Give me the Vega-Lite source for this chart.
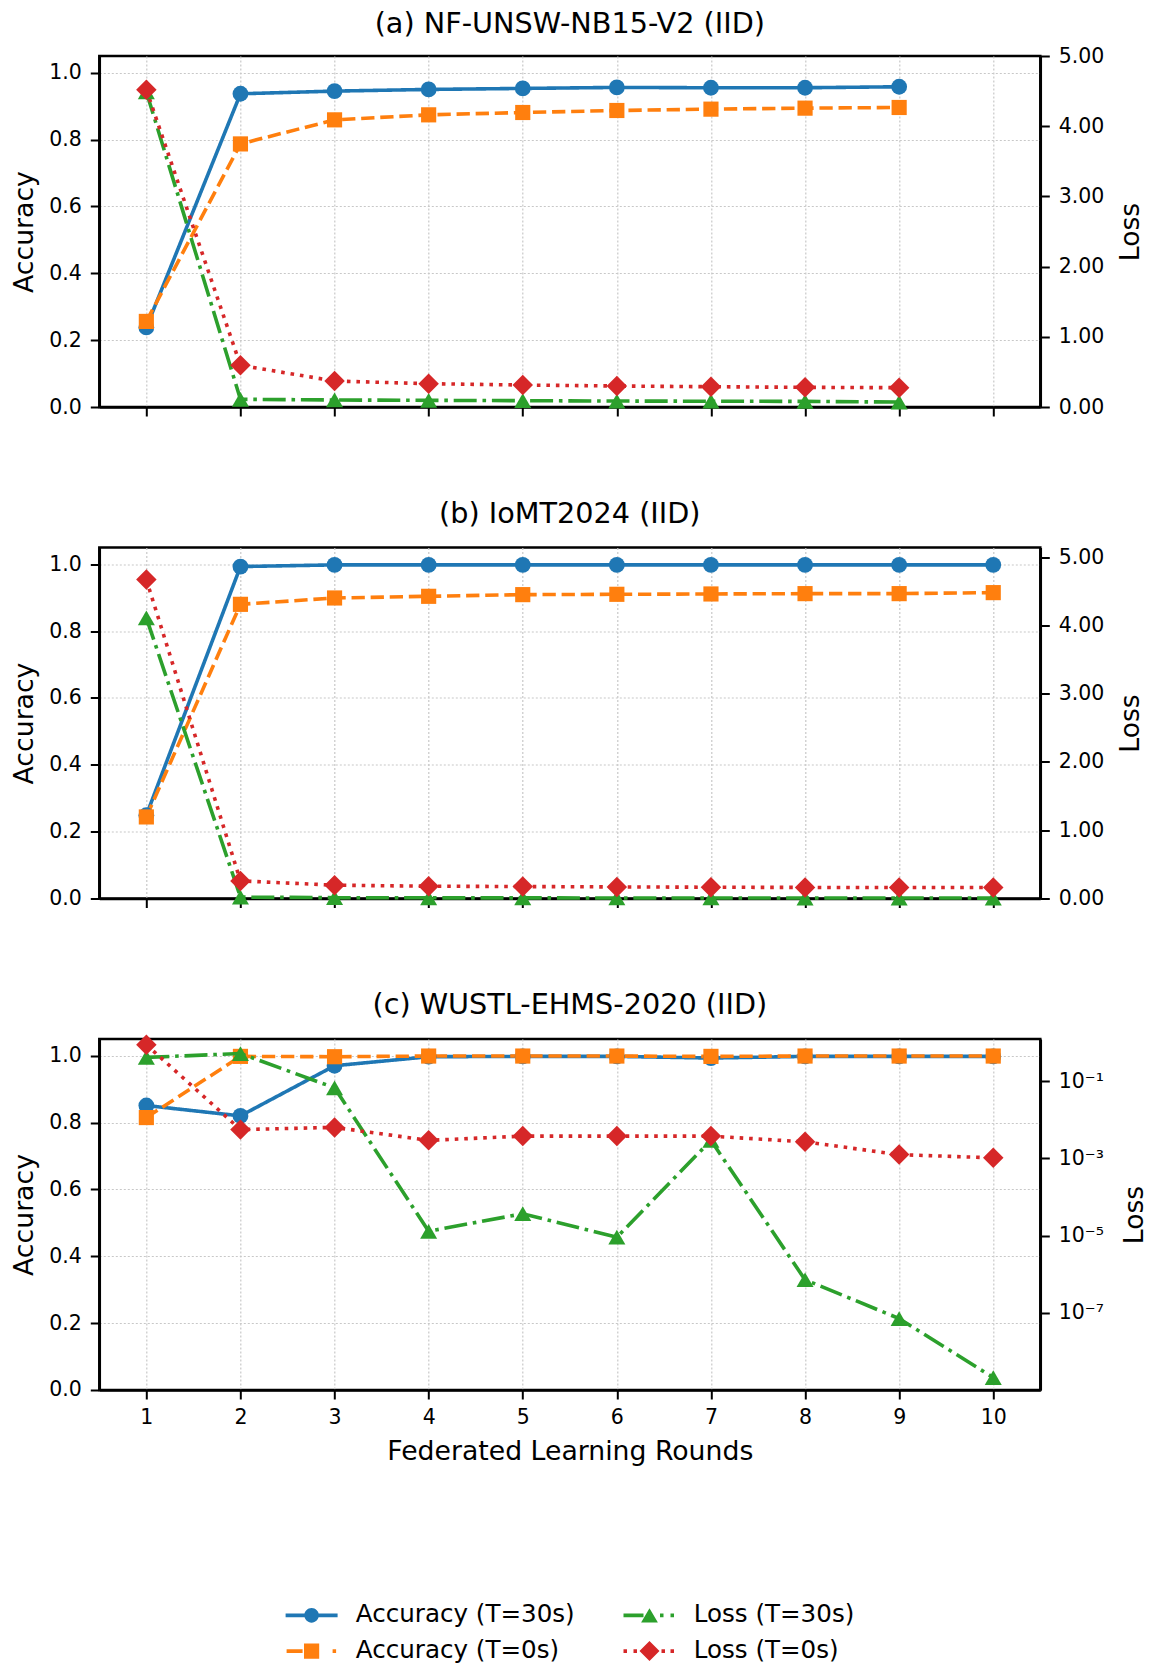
{
  "$schema": "https://vega.github.io/schema/vega-lite/v6.json",
  "padding": {"left": 10.3, "top": 9, "right": 5, "bottom": 0},
  "background": "white",
  "config": {
    "font": "DejaVu Sans",
    "view": {"stroke": "black", "strokeWidth": 2.5},
    "title": {"font": "DejaVu Sans", "fontSize": 28.7, "fontWeight": "normal", "color": "black", "baseline": "bottom", "anchor": "middle", "frame": "group"},
    "axis": {"labelFont": "DejaVu Sans", "titleFont": "DejaVu Sans", "labelFontSize": 20.5, "titleFontSize": 26.7, "titleFontWeight": "normal", "labelColor": "black", "titleColor": "black", "domainColor": "black", "domainWidth": 2.5, "tickColor": "black", "tickWidth": 2, "tickSize": 9, "labelPadding": 9, "gridColor": "#c8c8c8", "gridDash": [2, 2], "gridWidth": 1.2, "grid": false},
    "point": {"filled": true, "opacity": 1, "strokeWidth": 0}
  },
  "data": {"values": [
    {"panel": "a", "round": 1, "series": "Accuracy (T=30s)", "metric": "acc", "value": 0.238},
    {"panel": "a", "round": 2, "series": "Accuracy (T=30s)", "metric": "acc", "value": 0.937},
    {"panel": "a", "round": 3, "series": "Accuracy (T=30s)", "metric": "acc", "value": 0.945},
    {"panel": "a", "round": 4, "series": "Accuracy (T=30s)", "metric": "acc", "value": 0.950},
    {"panel": "a", "round": 5, "series": "Accuracy (T=30s)", "metric": "acc", "value": 0.953},
    {"panel": "a", "round": 6, "series": "Accuracy (T=30s)", "metric": "acc", "value": 0.956},
    {"panel": "a", "round": 7, "series": "Accuracy (T=30s)", "metric": "acc", "value": 0.955},
    {"panel": "a", "round": 8, "series": "Accuracy (T=30s)", "metric": "acc", "value": 0.955},
    {"panel": "a", "round": 9, "series": "Accuracy (T=30s)", "metric": "acc", "value": 0.958},
    {"panel": "a", "round": 1, "series": "Accuracy (T=0s)", "metric": "acc", "value": 0.256},
    {"panel": "a", "round": 2, "series": "Accuracy (T=0s)", "metric": "acc", "value": 0.787},
    {"panel": "a", "round": 3, "series": "Accuracy (T=0s)", "metric": "acc", "value": 0.859},
    {"panel": "a", "round": 4, "series": "Accuracy (T=0s)", "metric": "acc", "value": 0.874},
    {"panel": "a", "round": 5, "series": "Accuracy (T=0s)", "metric": "acc", "value": 0.881},
    {"panel": "a", "round": 6, "series": "Accuracy (T=0s)", "metric": "acc", "value": 0.887},
    {"panel": "a", "round": 7, "series": "Accuracy (T=0s)", "metric": "acc", "value": 0.891},
    {"panel": "a", "round": 8, "series": "Accuracy (T=0s)", "metric": "acc", "value": 0.894},
    {"panel": "a", "round": 9, "series": "Accuracy (T=0s)", "metric": "acc", "value": 0.896},
    {"panel": "a", "round": 1, "series": "Loss (T=30s)", "metric": "loss", "value": 4.49},
    {"panel": "a", "round": 2, "series": "Loss (T=30s)", "metric": "loss", "value": 0.11},
    {"panel": "a", "round": 3, "series": "Loss (T=30s)", "metric": "loss", "value": 0.10},
    {"panel": "a", "round": 4, "series": "Loss (T=30s)", "metric": "loss", "value": 0.095},
    {"panel": "a", "round": 5, "series": "Loss (T=30s)", "metric": "loss", "value": 0.09},
    {"panel": "a", "round": 6, "series": "Loss (T=30s)", "metric": "loss", "value": 0.085},
    {"panel": "a", "round": 7, "series": "Loss (T=30s)", "metric": "loss", "value": 0.082},
    {"panel": "a", "round": 8, "series": "Loss (T=30s)", "metric": "loss", "value": 0.08},
    {"panel": "a", "round": 9, "series": "Loss (T=30s)", "metric": "loss", "value": 0.07},
    {"panel": "a", "round": 1, "series": "Loss (T=0s)", "metric": "loss", "value": 4.52},
    {"panel": "a", "round": 2, "series": "Loss (T=0s)", "metric": "loss", "value": 0.594},
    {"panel": "a", "round": 3, "series": "Loss (T=0s)", "metric": "loss", "value": 0.37},
    {"panel": "a", "round": 4, "series": "Loss (T=0s)", "metric": "loss", "value": 0.332},
    {"panel": "a", "round": 5, "series": "Loss (T=0s)", "metric": "loss", "value": 0.313},
    {"panel": "a", "round": 6, "series": "Loss (T=0s)", "metric": "loss", "value": 0.299},
    {"panel": "a", "round": 7, "series": "Loss (T=0s)", "metric": "loss", "value": 0.289},
    {"panel": "a", "round": 8, "series": "Loss (T=0s)", "metric": "loss", "value": 0.28},
    {"panel": "a", "round": 9, "series": "Loss (T=0s)", "metric": "loss", "value": 0.275},

    {"panel": "b", "round": 1, "series": "Accuracy (T=30s)", "metric": "acc", "value": 0.249},
    {"panel": "b", "round": 2, "series": "Accuracy (T=30s)", "metric": "acc", "value": 0.993},
    {"panel": "b", "round": 3, "series": "Accuracy (T=30s)", "metric": "acc", "value": 0.998},
    {"panel": "b", "round": 4, "series": "Accuracy (T=30s)", "metric": "acc", "value": 0.998},
    {"panel": "b", "round": 5, "series": "Accuracy (T=30s)", "metric": "acc", "value": 0.998},
    {"panel": "b", "round": 6, "series": "Accuracy (T=30s)", "metric": "acc", "value": 0.998},
    {"panel": "b", "round": 7, "series": "Accuracy (T=30s)", "metric": "acc", "value": 0.998},
    {"panel": "b", "round": 8, "series": "Accuracy (T=30s)", "metric": "acc", "value": 0.998},
    {"panel": "b", "round": 9, "series": "Accuracy (T=30s)", "metric": "acc", "value": 0.998},
    {"panel": "b", "round": 10, "series": "Accuracy (T=30s)", "metric": "acc", "value": 0.998},
    {"panel": "b", "round": 1, "series": "Accuracy (T=0s)", "metric": "acc", "value": 0.244},
    {"panel": "b", "round": 2, "series": "Accuracy (T=0s)", "metric": "acc", "value": 0.880},
    {"panel": "b", "round": 3, "series": "Accuracy (T=0s)", "metric": "acc", "value": 0.899},
    {"panel": "b", "round": 4, "series": "Accuracy (T=0s)", "metric": "acc", "value": 0.904},
    {"panel": "b", "round": 5, "series": "Accuracy (T=0s)", "metric": "acc", "value": 0.909},
    {"panel": "b", "round": 6, "series": "Accuracy (T=0s)", "metric": "acc", "value": 0.910},
    {"panel": "b", "round": 7, "series": "Accuracy (T=0s)", "metric": "acc", "value": 0.911},
    {"panel": "b", "round": 8, "series": "Accuracy (T=0s)", "metric": "acc", "value": 0.912},
    {"panel": "b", "round": 9, "series": "Accuracy (T=0s)", "metric": "acc", "value": 0.912},
    {"panel": "b", "round": 10, "series": "Accuracy (T=0s)", "metric": "acc", "value": 0.915},
    {"panel": "b", "round": 1, "series": "Loss (T=30s)", "metric": "loss", "value": 4.11},
    {"panel": "b", "round": 2, "series": "Loss (T=30s)", "metric": "loss", "value": 0.02},
    {"panel": "b", "round": 3, "series": "Loss (T=30s)", "metric": "loss", "value": 0.012},
    {"panel": "b", "round": 4, "series": "Loss (T=30s)", "metric": "loss", "value": 0.01},
    {"panel": "b", "round": 5, "series": "Loss (T=30s)", "metric": "loss", "value": 0.009},
    {"panel": "b", "round": 6, "series": "Loss (T=30s)", "metric": "loss", "value": 0.008},
    {"panel": "b", "round": 7, "series": "Loss (T=30s)", "metric": "loss", "value": 0.008},
    {"panel": "b", "round": 8, "series": "Loss (T=30s)", "metric": "loss", "value": 0.007},
    {"panel": "b", "round": 9, "series": "Loss (T=30s)", "metric": "loss", "value": 0.007},
    {"panel": "b", "round": 10, "series": "Loss (T=30s)", "metric": "loss", "value": 0.006},
    {"panel": "b", "round": 1, "series": "Loss (T=0s)", "metric": "loss", "value": 4.67},
    {"panel": "b", "round": 2, "series": "Loss (T=0s)", "metric": "loss", "value": 0.258},
    {"panel": "b", "round": 3, "series": "Loss (T=0s)", "metric": "loss", "value": 0.195},
    {"panel": "b", "round": 4, "series": "Loss (T=0s)", "metric": "loss", "value": 0.18},
    {"panel": "b", "round": 5, "series": "Loss (T=0s)", "metric": "loss", "value": 0.175},
    {"panel": "b", "round": 6, "series": "Loss (T=0s)", "metric": "loss", "value": 0.17},
    {"panel": "b", "round": 7, "series": "Loss (T=0s)", "metric": "loss", "value": 0.165},
    {"panel": "b", "round": 8, "series": "Loss (T=0s)", "metric": "loss", "value": 0.162},
    {"panel": "b", "round": 9, "series": "Loss (T=0s)", "metric": "loss", "value": 0.16},
    {"panel": "b", "round": 10, "series": "Loss (T=0s)", "metric": "loss", "value": 0.16},

    {"panel": "c", "round": 1, "series": "Accuracy (T=30s)", "metric": "acc", "value": 0.851},
    {"panel": "c", "round": 2, "series": "Accuracy (T=30s)", "metric": "acc", "value": 0.820},
    {"panel": "c", "round": 3, "series": "Accuracy (T=30s)", "metric": "acc", "value": 0.970},
    {"panel": "c", "round": 4, "series": "Accuracy (T=30s)", "metric": "acc", "value": 0.997},
    {"panel": "c", "round": 5, "series": "Accuracy (T=30s)", "metric": "acc", "value": 0.998},
    {"panel": "c", "round": 6, "series": "Accuracy (T=30s)", "metric": "acc", "value": 0.998},
    {"panel": "c", "round": 7, "series": "Accuracy (T=30s)", "metric": "acc", "value": 0.993},
    {"panel": "c", "round": 8, "series": "Accuracy (T=30s)", "metric": "acc", "value": 0.998},
    {"panel": "c", "round": 9, "series": "Accuracy (T=30s)", "metric": "acc", "value": 0.998},
    {"panel": "c", "round": 10, "series": "Accuracy (T=30s)", "metric": "acc", "value": 0.998},
    {"panel": "c", "round": 1, "series": "Accuracy (T=0s)", "metric": "acc", "value": 0.815},
    {"panel": "c", "round": 2, "series": "Accuracy (T=0s)", "metric": "acc", "value": 0.998},
    {"panel": "c", "round": 3, "series": "Accuracy (T=0s)", "metric": "acc", "value": 0.997},
    {"panel": "c", "round": 4, "series": "Accuracy (T=0s)", "metric": "acc", "value": 0.999},
    {"panel": "c", "round": 5, "series": "Accuracy (T=0s)", "metric": "acc", "value": 0.999},
    {"panel": "c", "round": 6, "series": "Accuracy (T=0s)", "metric": "acc", "value": 0.999},
    {"panel": "c", "round": 7, "series": "Accuracy (T=0s)", "metric": "acc", "value": 0.998},
    {"panel": "c", "round": 8, "series": "Accuracy (T=0s)", "metric": "acc", "value": 0.999},
    {"panel": "c", "round": 9, "series": "Accuracy (T=0s)", "metric": "acc", "value": 0.999},
    {"panel": "c", "round": 10, "series": "Accuracy (T=0s)", "metric": "acc", "value": 0.999},
    {"panel": "c", "round": 1, "series": "Loss (T=30s)", "metric": "loss", "value": 0.417},
    {"panel": "c", "round": 2, "series": "Loss (T=30s)", "metric": "loss", "value": 0.525},
    {"panel": "c", "round": 3, "series": "Loss (T=30s)", "metric": "loss", "value": 0.068},
    {"panel": "c", "round": 4, "series": "Loss (T=30s)", "metric": "loss", "value": 0.000013},
    {"panel": "c", "round": 5, "series": "Loss (T=30s)", "metric": "loss", "value": 0.000037},
    {"panel": "c", "round": 6, "series": "Loss (T=30s)", "metric": "loss", "value": 0.0000091},
    {"panel": "c", "round": 7, "series": "Loss (T=30s)", "metric": "loss", "value": 0.00295},
    {"panel": "c", "round": 8, "series": "Loss (T=30s)", "metric": "loss", "value": 0.00000072},
    {"panel": "c", "round": 9, "series": "Loss (T=30s)", "metric": "loss", "value": 0.000000071},
    {"panel": "c", "round": 10, "series": "Loss (T=30s)", "metric": "loss", "value": 0.0000000021},
    {"panel": "c", "round": 1, "series": "Loss (T=0s)", "metric": "loss", "value": 0.89},
    {"panel": "c", "round": 2, "series": "Loss (T=0s)", "metric": "loss", "value": 0.0056},
    {"panel": "c", "round": 3, "series": "Loss (T=0s)", "metric": "loss", "value": 0.0064},
    {"panel": "c", "round": 4, "series": "Loss (T=0s)", "metric": "loss", "value": 0.00295},
    {"panel": "c", "round": 5, "series": "Loss (T=0s)", "metric": "loss", "value": 0.0038},
    {"panel": "c", "round": 6, "series": "Loss (T=0s)", "metric": "loss", "value": 0.0038},
    {"panel": "c", "round": 7, "series": "Loss (T=0s)", "metric": "loss", "value": 0.0038},
    {"panel": "c", "round": 8, "series": "Loss (T=0s)", "metric": "loss", "value": 0.0027},
    {"panel": "c", "round": 9, "series": "Loss (T=0s)", "metric": "loss", "value": 0.00126},
    {"panel": "c", "round": 10, "series": "Loss (T=0s)", "metric": "loss", "value": 0.00104}
  ]},
  "spacing": 79.5,
  "vconcat": [
    {
      "title": {"text": "(a) NF-UNSW-NB15-V2 (IID)", "offset": 7},
      "width": 941, "height": 351,
      "transform": [{"filter": "datum.panel === 'a'"}],
      "encoding": {
        "x": {"field": "round", "type": "quantitative", "scale": {"domain": [0.5, 10.5], "nice": false, "zero": false}, "axis": {"values": [1,2,3,4,5,6,7,8,9,10], "labels": false, "title": null, "grid": true}},
        "color": {"field": "series", "type": "nominal",
          "scale": {"domain": ["Accuracy (T=30s)", "Accuracy (T=0s)", "Loss (T=30s)", "Loss (T=0s)"], "range": ["#1f77b4", "#ff7f0e", "#2ca02c", "#d62728"]},
          "legend": {"orient": "none", "legendX": 200, "legendY": 1547, "columns": 2, "columnPadding": 47.9, "rowPadding": 10.8, "symbolSize": 400, "symbolStrokeWidth": 0, "symbolOpacity": 1, "labelFontSize": 24.6, "labelFont": "DejaVu Sans", "labelColor": "black", "labelOffset": 31.9, "title": null, "padding": 0, "labelLimit": 400}
        }
      },
      "layer": [
        {"transform": [{"filter": "datum.metric === 'acc'"}],
         "encoding": {"y": {"field": "value", "type": "quantitative", "scale": {"domain": [0, 1.05], "nice": false, "zero": false}, "axis": {"title": "Accuracy", "orient": "left", "values": [0, 0.2, 0.4, 0.6, 0.8, 1.0], "format": ".1f", "grid": true, "minExtent": 50, "maxExtent": 50, "titlePadding": 10.3}}},
         "layer": [
           {"mark": {"type": "line"}, "encoding": {"strokeWidth": {"value": 3.6}, "strokeDash": {"field": "series", "type": "nominal", "scale": {"domain": ["Accuracy (T=30s)", "Accuracy (T=0s)", "Loss (T=30s)", "Loss (T=0s)"], "range": [[1,0],[13.3,5.8],[23,5.8,3.6,5.8],[3.6,5.9]]}, "legend": null}}},
           {"mark": {"type": "point", "opacity": 0}, "encoding": {"shape": {"field": "series", "type": "nominal", "scale": {"domain": ["Accuracy (T=30s)", "Accuracy (T=0s)", "Loss (T=30s)", "Loss (T=0s)"], "range": [
             "M-2.6,-0.18L2.6,-0.18L2.6,0.18L-2.6,0.18ZM0.73,0A0.73,0.73,0,1,1,-0.73,0A0.73,0.73,0,1,1,0.73,0Z",
             "M-2.5,-0.18L-0.9,-0.18L-0.9,0.18L-2.5,0.18ZM-0.76,-0.76L0.76,-0.76L0.76,0.76L-0.76,0.76ZM2.1,-0.18L2.45,-0.18L2.45,0.18L2.1,0.18Z",
             "M-2.6,-0.18L-0.6,-0.18L-0.6,0.18L-2.6,0.18ZM0,-0.72L0.84,0.72L-0.84,0.72ZM1.05,-0.18L1.4,-0.18L1.4,0.18L1.05,0.18ZM2.1,-0.18L2.45,-0.18L2.45,0.18L2.1,0.18Z",
             "M-2.6,-0.18L-2.25,-0.18L-2.25,0.18L-2.6,0.18ZM-1.6,-0.18L-1.25,-0.18L-1.25,0.18L-1.6,0.18ZM0,-1L1,0L0,1L-1,0ZM1.2,-0.18L1.55,-0.18L1.55,0.18L1.2,0.18ZM2.1,-0.18L2.45,-0.18L2.45,0.18L2.1,0.18Z"
           ]}, "legend": null}}},
           {"transform": [{"filter": "datum.series === 'Accuracy (T=30s)'"}], "mark": {"type": "point", "shape": "circle", "size": 250}},
           {"transform": [{"filter": "datum.series === 'Accuracy (T=0s)'"}], "mark": {"type": "point", "shape": "square", "size": 230}}
         ]},
        {"transform": [{"filter": "datum.metric === 'loss'"}],
         "encoding": {"y": {"field": "value", "type": "quantitative", "scale": {"domain": [0, 5], "nice": false, "zero": false}, "axis": {"title": "Loss", "orient": "right", "values": [0, 1, 2, 3, 4, 5], "format": ".2f", "grid": false, "minExtent": 60, "maxExtent": 60, "titlePadding": 17.6, "titleAngle": 270, "titleBaseline": "top"}}},
         "layer": [
           {"mark": {"type": "line"}, "encoding": {"strokeWidth": {"value": 3.6}, "strokeDash": {"field": "series", "type": "nominal", "scale": {"domain": ["Accuracy (T=30s)", "Accuracy (T=0s)", "Loss (T=30s)", "Loss (T=0s)"], "range": [[1,0],[13.3,5.8],[23,5.8,3.6,5.8],[3.6,5.9]]}, "legend": null}}},
           {"transform": [{"filter": "datum.series === 'Loss (T=30s)'"}], "mark": {"type": "point", "shape": "triangle-up", "size": 290}},
           {"transform": [{"filter": "datum.series === 'Loss (T=0s)'"}], "mark": {"type": "point", "shape": "diamond", "size": 420}}
         ]}
      ],
      "resolve": {"scale": {"y": "independent"}}
    },
    {
      "title": {"text": "(b) IoMT2024 (IID)", "offset": 17.9},
      "width": 941, "height": 351,
      "transform": [{"filter": "datum.panel === 'b'"}],
      "encoding": {
        "x": {"field": "round", "type": "quantitative", "scale": {"domain": [0.5, 10.5], "nice": false, "zero": false}, "axis": {"values": [1,2,3,4,5,6,7,8,9,10], "labels": false, "title": null, "grid": true}},
        "color": {"field": "series", "type": "nominal", "scale": {"domain": ["Accuracy (T=30s)", "Accuracy (T=0s)", "Loss (T=30s)", "Loss (T=0s)"], "range": ["#1f77b4", "#ff7f0e", "#2ca02c", "#d62728"]}}
      },
      "layer": [
        {"transform": [{"filter": "datum.metric === 'acc'"}],
         "encoding": {"y": {"field": "value", "type": "quantitative", "scale": {"domain": [0, 1.05], "nice": false, "zero": false}, "axis": {"title": "Accuracy", "orient": "left", "values": [0, 0.2, 0.4, 0.6, 0.8, 1.0], "format": ".1f", "grid": true, "minExtent": 50, "maxExtent": 50, "titlePadding": 10.3}}},
         "layer": [
           {"mark": {"type": "line"}, "encoding": {"strokeWidth": {"value": 3.6}, "strokeDash": {"field": "series", "type": "nominal", "scale": {"domain": ["Accuracy (T=30s)", "Accuracy (T=0s)", "Loss (T=30s)", "Loss (T=0s)"], "range": [[1,0],[13.3,5.8],[23,5.8,3.6,5.8],[3.6,5.9]]}, "legend": null}}},
           {"transform": [{"filter": "datum.series === 'Accuracy (T=30s)'"}], "mark": {"type": "point", "shape": "circle", "size": 250}},
           {"transform": [{"filter": "datum.series === 'Accuracy (T=0s)'"}], "mark": {"type": "point", "shape": "square", "size": 230}}
         ]},
        {"transform": [{"filter": "datum.metric === 'loss'"}],
         "encoding": {"y": {"field": "value", "type": "quantitative", "scale": {"domain": [0, 5.14], "nice": false, "zero": false}, "axis": {"title": "Loss", "orient": "right", "values": [0, 1, 2, 3, 4, 5], "format": ".2f", "grid": false, "minExtent": 60, "maxExtent": 60, "titlePadding": 17.6, "titleAngle": 270, "titleBaseline": "top"}}},
         "layer": [
           {"mark": {"type": "line"}, "encoding": {"strokeWidth": {"value": 3.6}, "strokeDash": {"field": "series", "type": "nominal", "scale": {"domain": ["Accuracy (T=30s)", "Accuracy (T=0s)", "Loss (T=30s)", "Loss (T=0s)"], "range": [[1,0],[13.3,5.8],[23,5.8,3.6,5.8],[3.6,5.9]]}, "legend": null}}},
           {"transform": [{"filter": "datum.series === 'Loss (T=30s)'"}], "mark": {"type": "point", "shape": "triangle-up", "size": 290}},
           {"transform": [{"filter": "datum.series === 'Loss (T=0s)'"}], "mark": {"type": "point", "shape": "diamond", "size": 420}}
         ]}
      ],
      "resolve": {"scale": {"y": "independent"}}
    },
    {
      "title": {"text": "(c) WUSTL-EHMS-2020 (IID)", "offset": 14.4},
      "width": 941, "height": 351,
      "transform": [{"filter": "datum.panel === 'c'"}],
      "encoding": {
        "x": {"field": "round", "type": "quantitative", "scale": {"domain": [0.5, 10.5], "nice": false, "zero": false}, "axis": {"values": [1,2,3,4,5,6,7,8,9,10], "format": "d", "labels": true, "labelPadding": 8.3, "title": "Federated Learning Rounds", "titlePadding": 10.8, "grid": true}},
        "color": {"field": "series", "type": "nominal", "scale": {"domain": ["Accuracy (T=30s)", "Accuracy (T=0s)", "Loss (T=30s)", "Loss (T=0s)"], "range": ["#1f77b4", "#ff7f0e", "#2ca02c", "#d62728"]}}
      },
      "layer": [
        {"transform": [{"filter": "datum.metric === 'acc'"}],
         "encoding": {"y": {"field": "value", "type": "quantitative", "scale": {"domain": [0, 1.05], "nice": false, "zero": false}, "axis": {"title": "Accuracy", "orient": "left", "values": [0, 0.2, 0.4, 0.6, 0.8, 1.0], "format": ".1f", "grid": true, "minExtent": 50, "maxExtent": 50, "titlePadding": 10.3}}},
         "layer": [
           {"mark": {"type": "line"}, "encoding": {"strokeWidth": {"value": 3.6}, "strokeDash": {"field": "series", "type": "nominal", "scale": {"domain": ["Accuracy (T=30s)", "Accuracy (T=0s)", "Loss (T=30s)", "Loss (T=0s)"], "range": [[1,0],[13.3,5.8],[23,5.8,3.6,5.8],[3.6,5.9]]}, "legend": null}}},
           {"transform": [{"filter": "datum.series === 'Accuracy (T=30s)'"}], "mark": {"type": "point", "shape": "circle", "size": 250}},
           {"transform": [{"filter": "datum.series === 'Accuracy (T=0s)'"}], "mark": {"type": "point", "shape": "square", "size": 230}}
         ]},
        {"transform": [{"filter": "datum.metric === 'loss'"}],
         "encoding": {"y": {"field": "value", "type": "quantitative", "scale": {"type": "log", "domain": [0.000000001, 1.25], "nice": false}, "axis": {"title": "Loss", "orient": "right", "values": [0.1, 0.001, 0.00001, 0.0000001], "labelExpr": "datum.value > 0.05 ? '10⁻¹' : datum.value > 0.0005 ? '10⁻³' : datum.value > 0.000005 ? '10⁻⁵' : '10⁻⁷'", "grid": false, "minExtent": 60, "maxExtent": 60, "titlePadding": 21.6, "titleAngle": 270, "titleBaseline": "top"}}},
         "layer": [
           {"mark": {"type": "line"}, "encoding": {"strokeWidth": {"value": 3.6}, "strokeDash": {"field": "series", "type": "nominal", "scale": {"domain": ["Accuracy (T=30s)", "Accuracy (T=0s)", "Loss (T=30s)", "Loss (T=0s)"], "range": [[1,0],[13.3,5.8],[23,5.8,3.6,5.8],[3.6,5.9]]}, "legend": null}}},
           {"transform": [{"filter": "datum.series === 'Loss (T=30s)'"}], "mark": {"type": "point", "shape": "triangle-up", "size": 290}},
           {"transform": [{"filter": "datum.series === 'Loss (T=0s)'"}], "mark": {"type": "point", "shape": "diamond", "size": 420}}
         ]}
      ],
      "resolve": {"scale": {"y": "independent"}}
    }
  ]
}
